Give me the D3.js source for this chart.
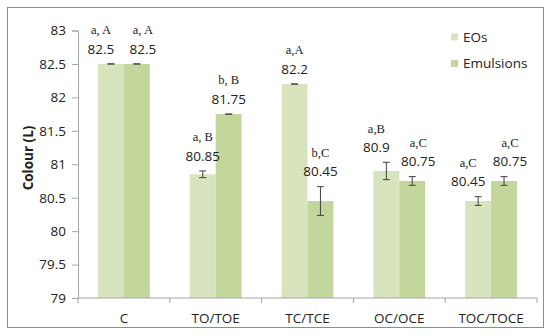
<!DOCTYPE html>
<meta charset="utf-8">
<head>
    <script src="https://d3js.org/d3.v7.min.js"></script>
    <style>
        body { margin: 0; background: white; }
        text { font-family: "Open Sans", "Noto Sans", sans-serif; fill: #222; }
        .letters { font-family: "Liberation Serif", serif; font-size: 12.5px; }
    </style>
</head>
<body>
<div id="chart"></div>
<script>
    // data
    const categories = ["C", "TO/TOE", "TC/TCE", "OC/OCE", "TOC/TOCE"];
    const seriesNames = ["EOs", "Emulsions"];
    const eosValues = [82.5, 80.85, 82.2, 80.9, 80.45];
    const emulsionValues = [82.5, 81.75, 80.45, 80.75, 80.75];
    const eosErrors = [0, 0.05, 0, 0.13, 0.065];
    const emulsionErrors = [0, 0, 0.215, 0.065, 0.065];
    const eosLetters = ["a, A", "a, B", "a,A", "a,B", "a,C"];
    const emulsionLetters = ["a, A", "b, B", "b,C", "a,C", "a,C"];
    const yTicks = [79, 79.5, 80, 80.5, 81, 81.5, 82, 82.5, 83];

    const colors = { "EOs": "#d7e4bd", "Emulsions": "#c3d69b" };

    const y = d3.scaleLinear()
        .domain([79, 83])
        .range([298, 30.5]);

    const bars = [];
    categories.forEach((c, i) => {
        // labels of the two bars sitting at about the same height get pushed apart
        const close = Math.abs(y(eosValues[i] + eosErrors[i]) - y(emulsionValues[i] + emulsionErrors[i])) < 25;
        bars.push({ cat: c, series: "EOs", value: eosValues[i], err: eosErrors[i], letters: eosLetters[i], shift: close ? -10 : 0 });
        bars.push({ cat: c, series: "Emulsions", value: emulsionValues[i], err: emulsionErrors[i], letters: emulsionLetters[i], shift: close ? 6 : 0 });
    });

    const svg = d3.select("#chart").append("svg")
        .attr("width", 550)
        .attr("height", 335);

    // outer frame
    svg.append("rect")
        .attr("x", 7.5).attr("y", 7.5)
        .attr("width", 536).attr("height", 320)
        .attr("fill", "white")
        .attr("stroke", "#8c8c8c");

    const x0 = d3.scaleBand()
        .domain(categories)
        .range([78, 537]);

    const x1 = d3.scaleBand()
        .domain(seriesNames)
        .range([x0.bandwidth() * 0.218, x0.bandwidth() * 0.782]);

    // bars
    svg.selectAll("rect.bar")
        .data(bars)
        .enter()
        .append("rect")
        .attr("class", "bar")
        .attr("x", d => x0(d.cat) + x1(d.series))
        .attr("y", d => y(d.value))
        .attr("width", x1.bandwidth())
        .attr("height", d => y(79) - y(d.value))
        .attr("fill", d => colors[d.series]);

    // error bars
    const eb = svg.selectAll("g.err")
        .data(bars)
        .enter()
        .append("g")
        .attr("class", "err")
        .attr("transform", d => `translate(${x0(d.cat) + x1(d.series) + x1.bandwidth() / 2},0)`);

    eb.append("line")
        .attr("y1", d => y(d.value + d.err))
        .attr("y2", d => y(d.value - d.err))
        .attr("stroke", "#404040");
    eb.append("line")
        .attr("x1", -3.5).attr("x2", 3.5)
        .attr("y1", d => y(d.value + d.err))
        .attr("y2", d => y(d.value + d.err))
        .attr("stroke", "#404040");
    eb.append("line")
        .attr("x1", -3.5).attr("x2", 3.5)
        .attr("y1", d => y(d.value - d.err))
        .attr("y2", d => y(d.value - d.err))
        .attr("stroke", "#404040");

    // value labels
    eb.append("text")
        .attr("x", d => d.shift)
        .attr("y", d => y(d.value + d.err) - 15)
        .attr("dy", "0.35em")
        .attr("text-anchor", "middle")
        .style("font-size", "13.5px")
        .text(d => d.value);

    eb.append("text")
        .attr("class", "letters")
        .attr("x", d => d.shift)
        .attr("y", d => y(d.value + d.err) - 34)
        .attr("dy", "0.35em")
        .attr("text-anchor", "middle")
        .text(d => d.letters);

    // y axis
    const leftAxis = d3.axisLeft(y)
        .tickValues(yTicks)
        .tickFormat(d => d)
        .tickSize(6)
        .tickPadding(6);

    const yg = svg.append("g")
        .attr("transform", "translate(78,0)")
        .call(leftAxis);
    yg.select(".domain").attr("stroke", "#a6a6a6");
    yg.selectAll(".tick line").attr("stroke", "#a6a6a6");
    yg.selectAll(".tick text")
        .style("font-size", "13.5px")
        .attr("fill", "#222")
        .style("font-family", "Open Sans");

    // x axis
    const xg = svg.append("g")
        .attr("transform", `translate(0,${y(79)})`);
    xg.append("line")
        .attr("x1", 78).attr("x2", 537)
        .attr("stroke", "#a6a6a6");
    xg.selectAll("line.tick")
        .data(categories.concat(["end"]))
        .enter()
        .append("line")
        .attr("x1", (d, i) => 78 + i * x0.step())
        .attr("x2", (d, i) => 78 + i * x0.step())
        .attr("y1", 0).attr("y2", 5)
        .attr("stroke", "#a6a6a6");
    xg.selectAll("text")
        .data(categories)
        .enter()
        .append("text")
        .attr("x", d => x0(d) + x0.bandwidth() / 2)
        .attr("y", 20)
        .attr("dy", "0.35em")
        .attr("text-anchor", "middle")
        .style("font-size", "13.5px")
        .text(d => d);

    // y axis title
    svg.append("text")
        .attr("transform", "translate(28,158) rotate(-90)")
        .attr("text-anchor", "middle")
        .attr("dy", "0.35em")
        .style("font-size", "13.5px")
        .style("font-weight", "bold")
        .text("Colour (L)");

    // legend
    const legend = svg.append("g")
        .attr("transform", "translate(451,37)");
    legend.selectAll("rect")
        .data(seriesNames)
        .enter()
        .append("rect")
        .attr("x", 0)
        .attr("y", (d, i) => i * 26.5 - 3.5)
        .attr("width", 7)
        .attr("height", 7)
        .attr("fill", d => colors[d]);
    legend.selectAll("text")
        .data(seriesNames)
        .enter()
        .append("text")
        .attr("x", 12)
        .attr("y", (d, i) => i * 26.5)
        .attr("dy", "0.35em")
        .style("font-size", "13.5px")
        .text(d => d);
</script>
</body>
